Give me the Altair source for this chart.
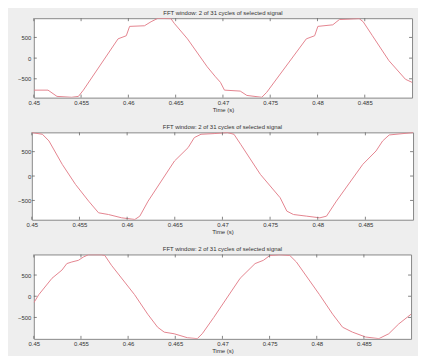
import altair as alt
import pandas as pd

# ---- data (time in s, signal value) ----
t1 = [0.4500, 0.4515, 0.45245, 0.4540, 0.45472, 0.45524, 0.45891, 0.45978, 0.46013,
      0.4617, 0.4624, 0.4631, 0.4645, 0.46485, 0.46625, 0.46834, 0.46921, 0.46974,
      0.47016, 0.47183, 0.47253, 0.47411, 0.47463, 0.47882, 0.4797, 0.48004, 0.48162,
      0.48231, 0.48441, 0.48483, 0.48581, 0.48755, 0.4893, 0.4900]
v1 = [-774, -774, -925, -947, -925, -774, 466, 541, 767,
      782, 880, 960, 955, 842, 466, -210, -451, -586,
      -774, -797, -902, -947, -827, 466, 541, 767, 805,
      932, 955, 880, 541, -60, -511, -586]

t2 = [0.4500, 0.45111, 0.4518, 0.45319, 0.45458, 0.45596, 0.4570, 0.45804, 0.45943,
      0.46081, 0.46133, 0.4622, 0.46497, 0.4664, 0.46705, 0.46775, 0.46913, 0.47052,
      0.47121, 0.47191, 0.47398, 0.47606, 0.47676, 0.47745, 0.47884, 0.48022, 0.48092,
      0.48196, 0.48473, 0.48612, 0.48681, 0.4875, 0.4900]
v2 = [890, 856, 719, 240, -171, -514, -753, -788, -856,
      -890, -822, -514, 308, 582, 788, 856, 870, 890,
      856, 651, 34, -445, -719, -788, -822, -856, -822,
      -514, 240, 514, 719, 842, 890]

t3 = [0.4500, 0.45053, 0.45193, 0.45298, 0.4535, 0.45403, 0.45473, 0.45525, 0.45578,
      0.45718, 0.45753, 0.45823, 0.46068, 0.46208, 0.46313, 0.46383, 0.46488, 0.46628,
      0.46733, 0.46786, 0.46908, 0.47188, 0.47293, 0.47346, 0.47434, 0.47504, 0.47609,
      0.47714, 0.47784, 0.48029, 0.48169, 0.48274, 0.48379, 0.48519, 0.48659, 0.48764,
      0.48869, 0.4900]
v3 = [-154, 38, 424, 616, 770, 808, 847, 924, 978,
      978, 962, 731, 38, -424, -731, -847, -885, -978,
      -1000, -885, -500, 424, 654, 770, 847, 962, 978,
      962, 808, 38, -424, -731, -847, -962, -1000, -885,
      -654, -424]

x_ticks = [0.45, 0.455, 0.46, 0.465, 0.47, 0.475, 0.48, 0.485]
y_ticks = [-500, 0, 500]
title_text = "FFT window: 2 of 31 cycles of selected signal"

panels = [
    dict(t=t1, v=v1, dom=[-955, 965], w=381, h=80, pad=3),
    dict(t=t2, v=v2, dom=[-895, 895], w=384, h=88, pad=1),
    dict(t=t3, v=v3, dom=[-1005, 985], w=380, h=85, pad=3),
]

FONT = "Liberation Sans"
LINE = "#e4848f"
TICK = "#666666"


def panel(p):
    df = pd.DataFrame({"t": p["t"], "v": p["v"]})
    xt = pd.DataFrame({"t": x_ticks})
    yt = pd.DataFrame({"v": y_ticks})
    w, h = p["w"], p["h"]
    xs = alt.Scale(domain=[0.45, 0.49], nice=False, zero=False)
    ys = alt.Scale(domain=p["dom"], nice=False, zero=False)
    xa = alt.Axis(values=x_ticks, format=".3~f", title="Time (s)",
                  labelFontSize=6, titleFontSize=6, titleFontWeight="normal",
                  labelPadding=2, titlePadding=1, tickSize=0, domain=False,
                  grid=False, labelColor="#333", titleColor="#333",
                  labelFont=FONT, titleFont=FONT, labelFlush=False)
    ya = alt.Axis(values=y_ticks, title=None, labelFontSize=6,
                  labelPadding=p["pad"], tickSize=0, domain=False, grid=False,
                  labelColor="#333", labelFont=FONT)
    X = alt.X("t:Q", scale=xs, axis=xa, title="Time (s)")
    Y = alt.Y("v:Q", scale=ys, axis=ya, title=None)
    line = alt.Chart(df).mark_line(color=LINE, strokeWidth=1, clip=True).encode(x=X, y=Y)
    xb = alt.Chart(xt).mark_rule(color=TICK, strokeWidth=0.8).encode(
        x=X, y=alt.value(h), y2=alt.value(h - 3))
    xtop = alt.Chart(xt).mark_rule(color=TICK, strokeWidth=0.8).encode(
        x=X, y=alt.value(0), y2=alt.value(3))
    yl = alt.Chart(yt).mark_rule(color=TICK, strokeWidth=0.8).encode(
        y=Y, x=alt.value(0), x2=alt.value(3))
    yr = alt.Chart(yt).mark_rule(color=TICK, strokeWidth=0.8).encode(
        y=Y, x=alt.value(w), x2=alt.value(w - 3))
    body = alt.layer(line, xb, xtop, yl, yr).properties(
        width=w, height=h,
        title=alt.TitleParams(title_text, fontSize=6, fontWeight="normal", font=FONT,
                              color="#333", offset=2, anchor="middle"),
    )
    spacer = alt.Chart(pd.DataFrame({"a": [0]})).mark_point(opacity=0).encode(
        x=alt.value(0), y=alt.value(0)
    ).properties(width=1, height=1,
                 view=alt.ViewBackground(stroke="transparent", fill="transparent"))
    return alt.hconcat(spacer, body, spacing=0)


chart = alt.vconcat(*[panel(p) for p in panels], spacing=10).properties(
    padding={"left": 0, "top": 0, "right": 4, "bottom": 0},
    background="#eeeeee",
).configure_view(stroke="#888888", strokeWidth=1, fill="white")

chart.save("out.html", embed_options={"renderer": "svg", "actions": False})
